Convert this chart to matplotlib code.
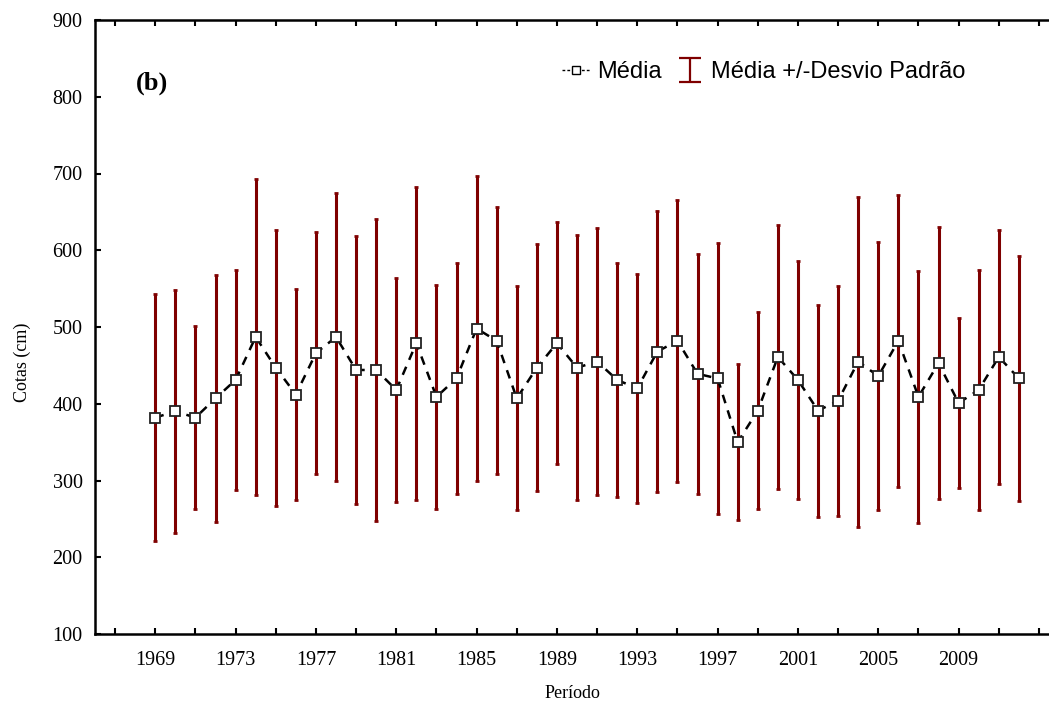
"""Cotas médias anuais com desvio padrão (painel b)."""

import numpy as np
import matplotlib
matplotlib.use("Agg")
import matplotlib.pyplot as plt
from matplotlib.lines import Line2D

anos = list(range(1969, 2013))

media = [382, 390, 382, 407, 431, 487, 447, 412, 466, 487,
         444, 444, 418, 479, 409, 433, 498, 482, 407, 447,
         479, 447, 455, 431, 420, 468, 482, 439, 433, 350,
         391, 461, 431, 391, 404, 455, 436, 482, 409, 453,
         401, 418, 461, 433]

desvio = [161, 158, 119, 161, 143, 206, 180, 137, 158, 188,
          175, 197, 146, 204, 146, 151, 199, 174, 146, 161,
          158, 173, 174, 152, 149, 183, 184, 156, 176, 102,
          128, 172, 155, 138, 150, 215, 175, 190, 164, 177,
          111, 156, 166, 160]

x_ticks = list(range(1967, 2014, 2))
x_labels = [str(a) if (a - 1969) % 4 == 0 and a <= 2009 else "" for a in x_ticks]

VERMELHO = "#7f0000"

fig = plt.figure(figsize=(10.49, 7.07), dpi=100)
ax = fig.add_axes([95 / 1049, 73 / 707, 1 - 95 / 1049, 614 / 707])

ax.errorbar(anos, media, yerr=desvio, fmt="none", ecolor=VERMELHO,
            elinewidth=2.2, capsize=1.5, capthick=2, zorder=2)
ax.plot(anos, media, linestyle=(0, (3.5, 3)), color="black", linewidth=1.8,
        marker="s", markersize=7.5, markerfacecolor="white",
        markeredgecolor="#222222", markeredgewidth=1.3, zorder=3)

# handle da legenda para as barras (caps largos como no original)
eb_leg = ax.errorbar([np.nan], [np.nan], yerr=[1], fmt="none", ecolor=VERMELHO,
                     elinewidth=1.6, capsize=8, capthick=1.6)
media_leg = Line2D([], [], linestyle=(0, (2, 1.5)), color="black", linewidth=1,
                   marker="s", markersize=6, markerfacecolor="white",
                   markeredgecolor="black")

ax.legend([media_leg, eb_leg], ["Média", "Média +/-Desvio Padrão"],
          loc="center right", bbox_to_anchor=(0.935, 0.915), ncol=2, frameon=False,
          handlelength=1.2, handletextpad=0.3, columnspacing=0.6,
          prop={"family": "Liberation Sans", "size": 17})

ax.set_xlim(1966, 2013.5)
ax.set_ylim(100, 900)
ax.set_xticks(x_ticks)
ax.set_xticklabels(x_labels)
ax.set_yticks(range(100, 1000, 100))

ax.tick_params(direction="in", top=True, right=False, length=4, width=1.5,
               labelsize=14.5)
ax.tick_params(axis="x", pad=12)
ax.tick_params(axis="y", pad=9)
for lbl in ax.get_xticklabels() + ax.get_yticklabels():
    lbl.set_fontfamily("Liberation Serif")

for side in ["left", "bottom", "top"]:
    ax.spines[side].set_linewidth(1.8)
ax.spines["right"].set_visible(False)

fig.text(572 / 1049, 1 - 693 / 707, "Período", fontfamily="Liberation Serif",
         fontsize=13, ha="center", va="center")
fig.text(22 / 1049, 1 - 362 / 707, "Cotas (cm)", fontfamily="Liberation Serif",
         fontsize=13, rotation=90, ha="center", va="center")

ax.text(1968.05, 818, "(b)", fontfamily="Liberation Serif", fontweight="bold",
        fontsize=19, va="center")

fig.savefig("out.png", dpi=100)
